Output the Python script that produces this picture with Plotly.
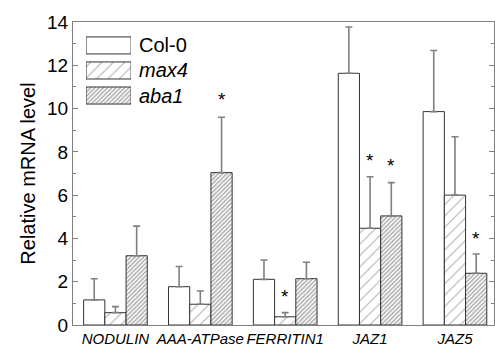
import plotly.graph_objects as go

genes = ["NODULIN", "AAA-ATPase", "FERRITIN1", "JAZ1", "JAZ5"]
series = ["Col-0", "max4", "aba1"]
col0 = [1.16, 1.77, 2.11, 11.63, 9.86]
col0_sd = [0.98, 0.93, 0.89, 2.14, 2.82]
max4 = [0.57, 0.96, 0.38, 4.47, 6.0]
max4_sd = [0.28, 0.61, 0.19, 2.38, 2.7]
aba1 = [3.2, 7.04, 2.14, 5.04, 2.39]
aba1_sd = [1.37, 2.56, 0.76, 1.54, 0.89]
# significance stars: (gene index, series index, y position)
star_gene = [1, 2, 3, 3, 4]
star_series = [2, 1, 1, 2, 2]
star_y = [10.4, 1.31, 7.6, 7.36, 4.0]

values = [col0, max4, aba1]
sds = [col0_sd, max4_sd, aba1_sd]
patterns = [
    dict(shape=""),
    dict(shape="/", size=8, solidity=0.12, fgcolor="#555555", bgcolor="white"),
    dict(shape="/", size=3, solidity=0.5, fgcolor="#5a5a5a", bgcolor="white"),
]

fig = go.Figure()
for name, v, sd, pat in zip(series, values, sds, patterns):
    fig.add_trace(go.Bar(
        x=genes, y=v, name=name, showlegend=False,
        marker=dict(color="white", line=dict(color="#333333", width=1), pattern=pat),
        error_y=dict(type="data", symmetric=False, array=sd, arrayminus=[0] * len(sd),
                     color="#808080", thickness=1.6, width=3.5),
    ))

# legend patches on an auxiliary axis
for name, pat in zip(series, patterns):
    fig.add_trace(go.Bar(
        x=[1], y=[name], orientation="h", xaxis="x2", yaxis="y2", showlegend=False,
        width=0.68, hoverinfo="skip",
        marker=dict(color="white", line=dict(color="#333333", width=1), pattern=pat),
    ))

labels = ["Col-0", "<i>max4</i>", "<i>aba1</i>"]
annotations = []
for name, lab in zip(series, labels):
    annotations.append(dict(x=0.152, xref="paper", y=name, yref="y2", text=lab,
                            showarrow=False, xanchor="left", yanchor="middle",
                            font=dict(size=20, color="black")))
offsets = [-0.25, 0, 0.25]
for g, s, yv in zip(star_gene, star_series, star_y):
    annotations.append(dict(x=g + offsets[s], xref="x", y=yv, yref="y", text="*",
                            showarrow=False, yanchor="middle",
                            font=dict(size=19, color="black")))

font = "Liberation Sans, Arial, sans-serif"
fig.update_layout(
    width=495, height=354,
    margin=dict(l=73, r=1, t=22, b=29),
    paper_bgcolor="white", plot_bgcolor="white",
    barmode="group", bargap=0.25, bargroupgap=0,
    font=dict(family=font, color="black"),
    annotations=annotations,
    xaxis=dict(type="category", range=[-0.5, 4.46], showline=True, linecolor="#808080",
               linewidth=1, mirror=True, ticks="", showgrid=False, tickangle=0,
               automargin=False, tickfont=dict(size=15, style="italic")),
    yaxis=dict(range=[0, 14], dtick=2, ticks="inside", ticklen=5, tickcolor="#808080",
               showline=True, linecolor="#808080", linewidth=1, mirror="allticks",
               showgrid=False, zeroline=False, tickfont=dict(size=19), automargin=False,
               minor=dict(dtick=1, ticks="inside", ticklen=3, tickcolor="#808080"),
               title=dict(text="Relative mRNA level", font=dict(size=20), standoff=6)),
    xaxis2=dict(domain=[0.031, 0.138], range=[0, 1], anchor="y2", visible=False,
                fixedrange=True),
    yaxis2=dict(domain=[0.716, 0.964], anchor="x2", visible=False, type="category",
                categoryorder="array", categoryarray=series[::-1], range=[-0.5, 2.5]),
)

fig.write_html("out.html")
